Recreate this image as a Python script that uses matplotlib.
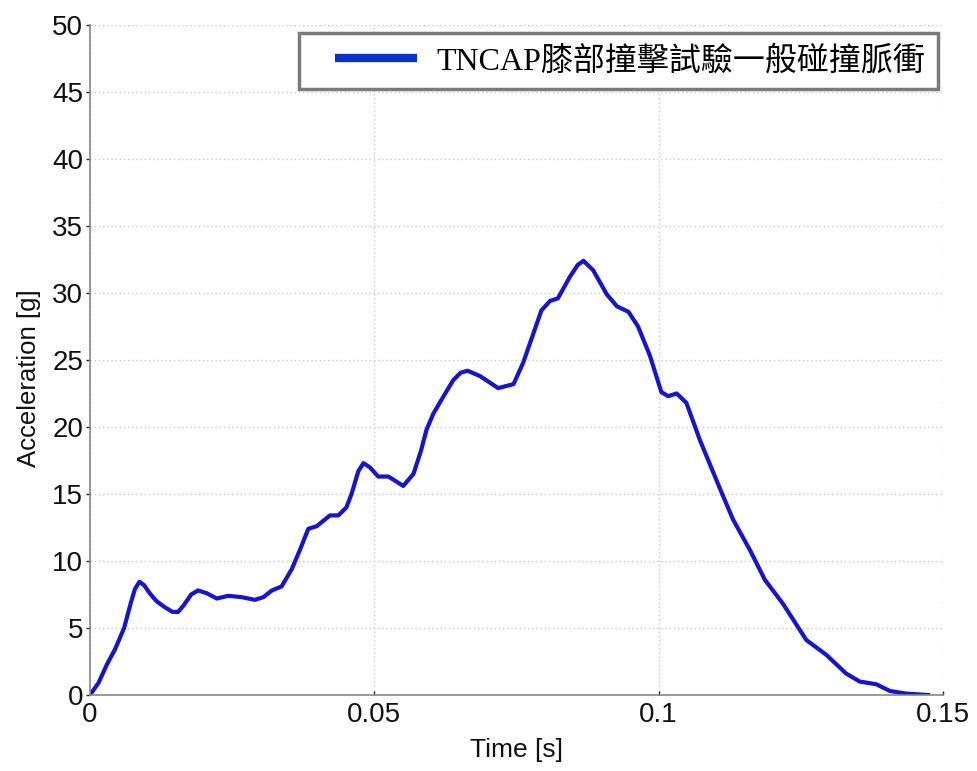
import numpy as np
import matplotlib
matplotlib.use("Agg")
from matplotlib import pyplot as plt
from matplotlib.font_manager import FontProperties
from matplotlib.legend_handler import HandlerLine2D

# knee impact pulse
time_s = [0, 0.0015, 0.003, 0.0044, 0.006, 0.0072, 0.0079, 0.0087, 0.0095, 0.0105, 0.0117,
          0.013, 0.0145, 0.0155, 0.0165, 0.0178, 0.019, 0.0205, 0.0223, 0.0243, 0.0267,
          0.029, 0.0305, 0.032, 0.0337, 0.0355, 0.0369, 0.0384, 0.0399, 0.0422, 0.0437,
          0.0451, 0.046, 0.0472, 0.0481, 0.0492, 0.0507, 0.0525, 0.0551, 0.0569, 0.0582,
          0.0592, 0.0604, 0.0622, 0.0639, 0.0652, 0.0664, 0.0686, 0.0718, 0.0745, 0.0762,
          0.0794, 0.0809, 0.0823, 0.0844, 0.0858, 0.0868, 0.0885, 0.0909, 0.0927, 0.0947,
          0.0964, 0.0985, 0.1005, 0.1017, 0.1032, 0.1049, 0.1073, 0.1111, 0.1131, 0.1161,
          0.1187, 0.1219, 0.126, 0.1295, 0.133, 0.1354, 0.1383, 0.1407, 0.1436, 0.1474]
accel_g = [0, 0.9, 2.3, 3.4, 5.0, 6.9, 7.9, 8.45, 8.2, 7.6, 7.0,
           6.6, 6.2, 6.2, 6.7, 7.5, 7.8, 7.6, 7.2, 7.4, 7.3,
           7.1, 7.3, 7.8, 8.1, 9.4, 10.8, 12.4, 12.6, 13.4, 13.4,
           14.0, 15.0, 16.7, 17.3, 17.0, 16.3, 16.3, 15.6, 16.5, 18.2,
           19.8, 21.0, 22.3, 23.5, 24.05, 24.2, 23.8, 22.9, 23.2, 24.8,
           28.7, 29.4, 29.6, 31.2, 32.1, 32.4, 31.7, 29.9, 29.0, 28.6,
           27.5, 25.3, 22.6, 22.3, 22.5, 21.8, 19.0, 15.1, 13.1, 10.8,
           8.6, 6.8, 4.1, 3.0, 1.6, 1.0, 0.8, 0.3, 0.1, 0.0]
legend_label = "TNCAP膝部撞擊試驗一般碰撞脈衝"
x_ticks = [0, 0.05, 0.1, 0.15]
x_tick_labels = ["0", "0.05", "0.1", "0.15"]
y_ticks = list(range(0, 51, 5))


class InsetLine(HandlerLine2D):
    # legend line pulled in from the ends of its box (left, right in font sizes)
    def __init__(self, left, right, **kw):
        super().__init__(**kw)
        self.left = left
        self.right = right

    def create_artists(self, legend, orig_handle, xdescent, ydescent, width, height, fontsize, trans):
        artists = super().create_artists(legend, orig_handle, xdescent, ydescent,
                                         width, height, fontsize, trans)
        for a in artists:
            xd = np.asarray(a.get_xdata(), dtype=float)
            if len(xd) >= 2:
                a.set_xdata(np.linspace(xd[0] + self.left * fontsize,
                                        xd[-1] - self.right * fontsize, len(xd)))
        return artists


plt.rcParams["font.family"] = ["Liberation Sans", "DejaVu Sans"]

fig = plt.figure(figsize=(9.78, 7.71), dpi=100)
ax = fig.add_axes([0.092, 0.0986, 0.872, 0.869])

line, = ax.plot(time_s, accel_g, color="#1414d2", linewidth=3.0, label=legend_label)

ax.set_xlim(0, 0.15)
ax.set_ylim(0, 50)
ax.set_xticks(x_ticks)
ax.set_xticklabels(x_tick_labels)
ax.set_yticks(y_ticks)
ax.tick_params(axis="both", labelsize=20, colors="#222222", length=3, width=1)
ax.tick_params(axis="x", direction="in", pad=5)
ax.tick_params(axis="y", direction="out", pad=2)
for lbl in ax.get_xticklabels() + ax.get_yticklabels():
    lbl.set_color("#111111")

ax.grid(True, linestyle=(0, (1, 2)), color="#c8c8c8", linewidth=1.0)
for side in ["top", "right"]:
    ax.spines[side].set_visible(False)
for side in ["left", "bottom"]:
    ax.spines[side].set_color("#888888")
    ax.spines[side].set_linewidth(1.2)

ax.set_xlabel("Time [s]", fontsize=19, color="#111111", labelpad=7)
ax.set_ylabel("Acceleration [g]", fontsize=18.5, color="#111111")
ax.yaxis.set_label_coords(-0.057, 0.473)

leg_font = FontProperties(family=["Liberation Serif", "Noto Sans CJK TC"], size=23)
leg = ax.legend(loc="upper right", bbox_to_anchor=(0.994, 0.988), borderaxespad=0,
                prop=leg_font, handlelength=3.6, handletextpad=0.3, borderpad=0.4,
                fancybox=False, framealpha=1,
                handler_map={line: InsetLine(0.75, 0.31)})
leg.get_frame().set_edgecolor("#7a7a7a")
leg.get_frame().set_linewidth(2.5)
for h in leg.get_lines():
    h.set_linewidth(6)
    h.set_color("#0a32c8")
    h.set_solid_capstyle("butt")

fig.savefig("out.png", dpi=100)
